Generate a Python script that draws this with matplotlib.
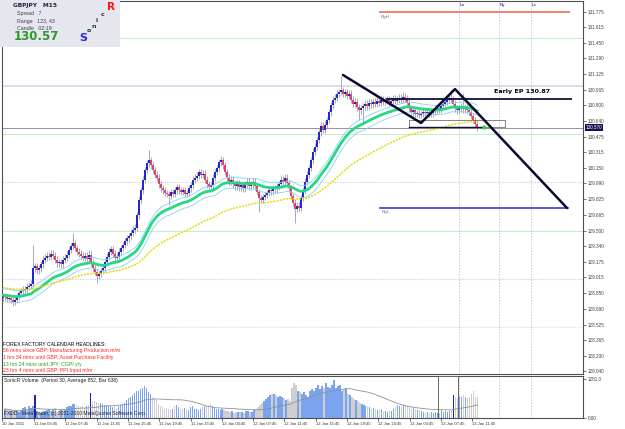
import matplotlib
matplotlib.use('Agg')
import matplotlib.pyplot as plt
import numpy as np
import pandas as pd
from matplotlib.patches import Rectangle

W, H = 625, 429

# M15 closes (one per bar, left to right)
closes = [
    128.82, 128.81, 128.79, 128.80, 128.78, 128.76, 128.78, 128.81, 128.85, 128.87,
    128.89, 128.88, 128.92, 128.93, 128.95, 129.11, 129.13, 129.09, 129.11, 129.15,
    129.20, 129.22, 129.24, 129.23, 129.26, 129.24, 129.20, 129.16, 129.17, 129.15,
    129.20, 129.22, 129.25, 129.30, 129.34, 129.37, 129.32, 129.28, 129.26, 129.24,
    129.22, 129.24, 129.21, 129.25, 129.17, 129.11, 129.07, 129.03, 129.05, 129.08,
    129.11, 129.17, 129.23, 129.28, 129.31, 129.26, 129.22, 129.23, 129.28, 129.32,
    129.35, 129.39, 129.42, 129.44, 129.48, 129.51, 129.53, 129.66, 129.82, 129.92,
    130.03, 130.13, 130.20, 130.23, 130.18, 130.13, 130.08, 130.05, 129.98, 129.94,
    129.92, 129.89, 129.88, 129.86, 129.90, 129.88, 129.92, 129.95, 129.92, 129.90,
    129.92, 129.88, 129.89, 129.94, 129.97, 130.03, 130.05, 130.07, 130.11, 130.08,
    130.09, 130.03, 129.98, 129.95, 129.97, 130.05, 130.11, 130.15, 130.21, 130.23,
    130.18, 130.11, 130.05, 130.01, 130.03, 129.98, 129.96, 129.99, 129.95, 129.97,
    129.94, 129.98, 130.01, 129.96, 129.98, 130.01, 129.96, 129.90, 129.84, 129.82,
    129.85, 129.87, 129.89, 129.92, 129.91, 129.94, 129.93, 129.96, 129.98, 130.03,
    130.01, 130.05, 129.99, 129.94, 129.86, 129.79, 129.73, 129.76, 129.74, 129.84,
    129.92, 130.01, 130.08, 130.15, 130.23, 130.32, 130.37, 130.44, 130.52, 130.59,
    130.55, 130.60, 130.65, 130.73, 130.80, 130.86, 130.88, 130.92, 130.94, 130.96,
    130.92, 130.94, 130.90, 130.92, 130.86, 130.82, 130.84, 130.78, 130.75, 130.77,
    130.79, 130.82, 130.79, 130.83, 130.81, 130.84, 130.82, 130.85, 130.83, 130.86,
    130.84, 130.85, 130.86, 130.83, 130.85, 130.87, 130.85, 130.86, 130.88, 130.86,
    130.89, 130.87, 130.83, 130.77, 130.73, 130.75, 130.71, 130.72, 130.70, 130.71,
    130.73, 130.72, 130.73, 130.71, 130.72, 130.74, 130.75, 130.77, 130.76, 130.79,
    130.82, 130.84, 130.86, 130.88, 130.86, 130.82, 130.77, 130.75, 130.77, 130.79,
    130.76, 130.78, 130.75, 130.73, 130.69, 130.65, 130.61, 130.57,
]
first_open = 128.80
wick = 0.035
spike_high = {15: 129.35, 35: 129.48, 43: 129.30, 73: 130.34, 109: 130.28,
              169: 131.11, 200: 130.94, 224: 130.96, 230: 130.93}
spike_low = {5: 128.72, 47: 128.96, 83: 129.77, 128: 129.69, 146: 129.58,
             178: 130.65, 180: 130.62, 237: 130.53}

# tick volume per bar
volume = [
    300, 280, 260, 220, 200, 250, 230, 210, 240, 330,
    360, 300, 380, 340, 400, 760, 220, 200, 180, 210,
    230, 260, 300, 220, 280, 320, 200, 240, 270, 300,
    250, 350, 400, 380, 450, 470, 420, 380, 360, 400,
    340, 380, 420, 820, 520, 560, 540, 500, 480, 460,
    420, 440, 400, 380, 360, 400, 340, 380, 420, 450,
    480, 600, 650, 700, 750, 820, 880, 900, 950, 1000,
    1050, 980, 850, 800, 700, 650, 600, 450, 400, 350,
    300, 320, 280, 260, 300, 380, 420, 350, 300, 280,
    320, 300, 260, 350, 380, 300, 280, 260, 300, 350,
    400, 380, 420, 450, 380, 320, 300, 280, 250, 280,
    260, 220, 240, 200, 220, 180, 200, 190, 210, 200,
    180, 220, 240, 200, 190, 260, 300, 350, 420, 500,
    560, 620, 700, 750, 780, 800, 760, 700, 720, 680,
    650, 600, 640, 560, 1000, 1150, 1100, 900, 850, 800,
    850, 760, 700, 900, 950, 880, 1000, 1100, 950, 1050,
    1000, 1150, 1020, 980, 1080, 1250, 1000, 1050, 1100, 900,
    950, 1000, 800, 750, 700, 620, 600, 550, 500, 450,
    420, 400, 380, 350, 300, 320, 280, 260, 250, 300,
    240, 220, 200, 260, 230, 300, 350, 420, 400, 380,
    440, 400, 380, 360, 300, 340, 280, 260, 250, 220,
    200, 180, 200, 170, 190, 160, 200, 180, 150, 250,
    200, 220, 200, 240, 250, 760, 700, 650, 720, 680,
    750, 700, 650, 680, 800, 900, 700, 680,
]
climax_bars = [15, 43, 225]

price_ticks = [131.775, 131.615, 131.450, 131.290, 131.125, 130.965, 130.800,
               130.640, 130.475, 130.315, 130.150, 129.990, 129.825, 129.665,
               129.500, 129.340, 129.175, 129.015, 128.850, 128.690, 128.525,
               128.365, 128.200, 128.040]
time_labels = ['10 Jan 2011', '11 Jan 03:45', '11 Jan 07:45', '11 Jan 11:45',
               '11 Jan 15:45', '11 Jan 19:45', '11 Jan 23:45', '12 Jan 03:45',
               '12 Jan 07:45', '12 Jan 11:45', '12 Jan 15:45', '12 Jan 19:45',
               '12 Jan 23:45', '13 Jan 03:45', '13 Jan 07:45', '13 Jan 11:45']

# drawn objects (bar index, price)
pattern_pts = [(170, 131.116), (209, 130.618), (226, 130.970), (282, 129.735)]
early_ep = 130.87
rg_high, rg_low = 131.77, 129.735
last_price = 130.57
session_bars = [228, 248, 264]
session_names = ['Lo', 'Ny', 'Lc']

headlines = [('FOREX FACTORY CALENDAR HEADLINES:', '#000000'),
             ('56 mins since GBP: Manufacturing Production m/m', '#ff2020'),
             ('1 hrs 34 mins until GBP: Asset Purchase Facility', '#ff2020'),
             ('13 hrs 24 mins until JPY: CGPI y/y', '#20a020'),
             ('23 hrs 4 mins until GBP: PPI Input m/m', '#ff2020')]

# ---------------------------------------------------------------
c = np.array(closes)
o = np.concatenate([[first_open], c[:-1]])
hi = np.maximum(o, c) + wick
lo = np.minimum(o, c) - wick
for k, v in spike_high.items():
    hi[k] = v
for k, v in spike_low.items():
    lo[k] = v
n = len(c)
x = np.arange(n)

def ema(vals, seed, span):
    return pd.Series(np.concatenate([[seed], vals])).ewm(span=span, adjust=False).mean().values[1:]

ema_c = ema(c, 128.83, 34)
ema_h = ema(hi, 128.90, 34)
ema_l = ema(lo, 128.76, 34)
ema_slow = ema(c, 128.91, 89)

vol = np.array(volume, dtype=float)
vol_ma = pd.Series(vol).rolling(30, min_periods=1).mean().values

plt.rcParams['font.family'] = ['Liberation Sans', 'DejaVu Sans']
fig = plt.figure(figsize=(W / 100, H / 100), dpi=100, facecolor='white')

def fx(px):
    return px / W

def fy(py):
    return 1 - py / H

def bar_of(px):
    return (px - 3) / 2

ax = fig.add_axes([fx(2), fy(374), fx(583) - fx(2), fy(1) - fy(374)])
axv = fig.add_axes([fx(2), fy(418), fx(583) - fx(2), fy(376) - fy(418)])

xlim = (bar_of(2), bar_of(583))
ax.set_xlim(*xlim)
ax.set_ylim(131.5 - (374 - 38) / 96.33, 131.5 + 37 / 96.33)
axv.set_xlim(*xlim)
axv.set_ylim(0, 1380)

for a in (ax, axv):
    for s in a.spines.values():
        s.set_color('#505050')
        s.set_linewidth(0.8)
    a.set_facecolor('white')

# level lines
for lv in (131.5, 130.5, 129.5):
    ax.axhline(lv, color='#c8f0c8', lw=0.8, zorder=1)
ax.axhline(131.0, color='#dcdcf0', lw=1.4, zorder=1)
for lv in (130.0, 129.0):
    ax.axhline(lv, color='#d0d0ec', lw=0.9, ls=(0, (1, 1)), zorder=1)
ax.axhline(128.5, color='#c8f0c8', lw=0.9, ls=(0, (1, 1)), zorder=1)

for b in session_bars:
    ax.axvline(b, color='#c8c8e0', lw=0.7, ls=(0, (1.5, 1.5)), zorder=1)
    axv.axvline(b, color='#c8c8e0', lw=0.7, ls=(0, (1.5, 1.5)), zorder=1)
for b, nm in zip(session_bars, session_names):
    ax.text(b + 0.5, 131.84, nm, fontsize=3.2, color='#8040c0', fontweight='bold',
            va='center', ha='left')

# candles
ax.vlines(x, lo, hi, color='#a8a8c0', lw=0.7, zorder=2)
up = c >= o
body_bot = np.minimum(o, c)
body_h = np.maximum(np.abs(c - o), 0.008)
ax.bar(x[up], body_h[up], bottom=body_bot[up], width=1.35, color='#2424d0', zorder=3)
ax.bar(x[~up], body_h[~up], bottom=body_bot[~up], width=1.35, color='#e84060', zorder=3)

# dragon + trend
ax.plot(x, ema_h, color='#88d0f8', lw=0.6, zorder=4)
ax.plot(x, ema_l, color='#88d0f8', lw=0.6, zorder=4)
ax.plot(x, ema_c, color='#26d882', lw=2.0, zorder=5)
ax.plot(x, ema_slow, color='#e8d800', lw=1.0, ls=(0, (1.5, 0.8)), zorder=5)

# current price line
ax.axhline(last_price, color='#808090', lw=0.6, zorder=2)

# range lines
ax.plot([bar_of(380), bar_of(569)], [rg_high, rg_high], color='#f08070', lw=1.4, zorder=6)
ax.text(bar_of(381), rg_high - 0.05, 'RgH', fontsize=3.2, color='#606080', va='center')
ax.plot([bar_of(380), bar_of(568)], [rg_low, rg_low], color='#3a3ae0', lw=1.2, zorder=6)
ax.text(bar_of(382), rg_low - 0.04, 'RgL', fontsize=3.2, color='#606080', va='center')

# box and lines round the last bars
ax.add_patch(Rectangle((bar_of(409), 130.576), bar_of(505) - bar_of(409), 130.649 - 130.576,
                       fill=False, edgecolor='#707070', lw=0.6, zorder=6))
ax.plot([bar_of(409), bar_of(482)], [130.576, 130.576], color='#101040', lw=1.0, zorder=6)
ax.plot([bar_of(387), bar_of(571)], [early_ep, early_ep], color='#101040', lw=1.3, zorder=7)
ax.text(bar_of(494), early_ep + 0.07, 'Early EP 130.87', fontsize=4.6, fontweight='bold',
        color='#000000', va='center', ha='left', family='DejaVu Sans')
px_, py_ = zip(*pattern_pts)
ax.plot(px_, py_, color='#0a0a30', lw=1.8, zorder=8, solid_capstyle='round')
ax.plot([bar_of(484)], [130.576], 'o', color='#22dd22', ms=3, zorder=9, mec='none')

# right price scale
ax.yaxis.tick_right()
ax.set_yticks(price_ticks)
ax.set_yticklabels([f'{t:.3f}' for t in price_ticks])
ax.tick_params(axis='y', labelsize=3.3, length=2, width=0.5, pad=1.5, colors='#404040')
ax.set_xticks([])
ax.text(1.004, (last_price - ax.get_ylim()[0]) / (ax.get_ylim()[1] - ax.get_ylim()[0]),
        f'{last_price:.3f}', transform=ax.transAxes, fontsize=3.3, color='white',
        va='center', ha='left', zorder=10, clip_on=False,
        bbox=dict(boxstyle='square,pad=0.15', fc='#101050', ec='none'))

# info panel
fig.patches.append(Rectangle((0, fy(47)), fx(120), fy(0) - fy(47), transform=fig.transFigure,
                             facecolor='#e6e6ee', edgecolor='none', zorder=20))
fig.text(fx(13), fy(6), 'GBPJPY   M15', fontsize=4.2, fontweight='bold', color='#202040',
         va='center', zorder=21, family='DejaVu Sans')
fig.text(fx(17), fy(14), 'Spread   7', fontsize=3.8, color='#404050', va='center', zorder=21)
fig.text(fx(17), fy(21), 'Range   123, 43', fontsize=3.8, color='#404050', va='center', zorder=21)
fig.text(fx(17), fy(28), 'Candle   02:19', fontsize=3.8, color='#404050', va='center', zorder=21)
fig.text(fx(14), fy(36), '130.57', fontsize=8.5, fontweight='bold', color='#2a9a2a',
         va='center', zorder=21, family='DejaVu Sans')
for ch, cx, cy, size, col in [('S', 79, 38, 8, '#2a2ae0'), ('o', 87, 31, 4.5, '#303040'),
                              ('n', 92, 26, 4.5, '#303040'), ('i', 96, 21, 4.5, '#303040'),
                              ('c', 101, 15, 4.5, '#303040'), ('R', 107, 7, 7.5, '#ff1010')]:
    fig.text(fx(cx), fy(cy), ch, fontsize=size, fontweight='bold', color=col,
             va='center', ha='left', zorder=21, family='DejaVu Sans')

# headlines
for k, (txt, col) in enumerate(headlines):
    fig.text(fx(3), fy(344 + 6.7 * k), txt, fontsize=3.7, color=col, va='center')

# volume panel: up bars blue, down bars grey, climax bars dark blue
vcol = np.array(np.where(up, '#7aa4f0', '#cfcfcf'), dtype=object)
for b in climax_bars:
    vcol[b] = '#2020b8'
axv.bar(x, vol, width=0.75, color=list(vcol), zorder=2, antialiased=False)
axv.plot(x, vol_ma, color='#909090', lw=0.6, zorder=3)
axv.add_patch(Rectangle((bar_of(437), 0), bar_of(458) - bar_of(437), 1378,
                        fill=False, edgecolor='#6a6a50', lw=0.7, zorder=4))
axv.yaxis.tick_right()
axv.set_yticks([0, 1281])
axv.set_yticklabels(['0.00', '1281.0'])
axv.tick_params(axis='y', labelsize=3.3, length=2, width=0.5, pad=1.5, colors='#404040')
axv.text(0.004, 0.9, 'SonicR Volume  (Period 30, Average 852, Bar 638)', transform=axv.transAxes,
         fontsize=3.6, color='#202020', va='center')
axv.text(0.004, 0.1, 'FXDD - MetaTrader, (c) 2001-2010 MetaQuotes Software Corp.',
         transform=axv.transAxes, fontsize=3.6, color='#202020', va='center')

tick_px = [0] + [32 + 31.43 * k for k in range(len(time_labels) - 1)]
axv.set_xticks([bar_of(p) for p in tick_px])
axv.set_xticklabels(time_labels, ha='left')
axv.tick_params(axis='x', labelsize=3.0, length=2, width=0.5, pad=1.2, colors='#303030')

fig.savefig('out.png', dpi=100, facecolor='white')
